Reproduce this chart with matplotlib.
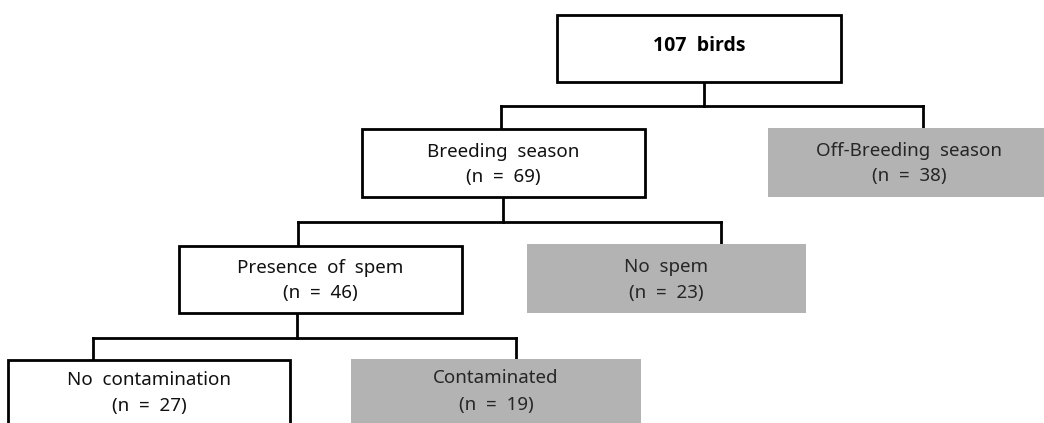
import matplotlib.pyplot as plt
from matplotlib.patches import Rectangle

plt.rcParams['font.family'] = ['Noto Sans', 'DejaVu Sans']

# node labels and counts
labels = ["birds", "Breeding season", "Off-Breeding season", "Presence of spem",
          "No spem", "No contamination", "Contaminated"]
counts = [107, 69, 38, 46, 23, 27, 19]
shaded = [False, False, True, False, True, False, True]

# layout (pixels): x0, x1, y0, y1
boxes = [(557, 841, 15, 82), (362, 645, 129, 197), (768, 1051, 128, 197),
         (179, 462, 246, 313), (527, 806, 244, 313),
         (8, 290, 360, 440), (351, 641, 359, 440)]
text_y = [46, (152, 177), (151, 176), (268, 293), (267, 293), (380, 406), (378, 405)]

# connectors: parent x, parent bottom, bar y, left child x, right child x, child tops
links = [(704, 82, 106, 501, 923, 129, 128),
         (503, 197, 222, 298, 721, 246, 244),
         (297, 313, 338, 93, 516, 360, 359)]

fig = plt.figure(figsize=(10.44, 4.23), dpi=100)
ax = fig.add_axes([0, 0, 1, 1])
ax.set_xlim(0, 1044)
ax.set_ylim(423, 0)
ax.axis("off")

lw = 2.0
for px, pb, by, lx, rx, lt, rt in links:
    ax.plot([px, px], [pb, by], color="black", lw=lw, solid_capstyle="projecting")
    ax.plot([lx, rx], [by, by], color="black", lw=lw, solid_capstyle="projecting")
    ax.plot([lx, lx], [by, lt], color="black", lw=lw)
    ax.plot([rx, rx], [by, rt], color="black", lw=lw)

fs = 13.5
for i, (x0, x1, y0, y1) in enumerate(boxes):
    if shaded[i]:
        ax.add_patch(Rectangle((x0, y0), x1 - x0, y1 - y0, facecolor="#b3b3b3",
                               edgecolor="none", zorder=3))
        col = "#262626"
    else:
        ax.add_patch(Rectangle((x0, y0), x1 - x0, y1 - y0, facecolor="white",
                               edgecolor="black", lw=lw, zorder=3))
        col = "#111111"
    cx = (x0 + x1) / 2
    if i == 0:
        ax.text(cx, text_y[i], f"{counts[i]}  {labels[i]}", ha="center", va="center",
                fontsize=14, fontweight="bold", family=["Open Sans", "DejaVu Sans"],
                zorder=4)
    else:
        ax.text(cx, text_y[i][0], labels[i].replace(" ", "  "), ha="center",
                va="center", fontsize=fs, color=col, zorder=4)
        ax.text(cx, text_y[i][1], f"(n  =  {counts[i]})", ha="center", va="center",
                fontsize=fs, color=col, zorder=4)

fig.savefig("out.png", dpi=100)
